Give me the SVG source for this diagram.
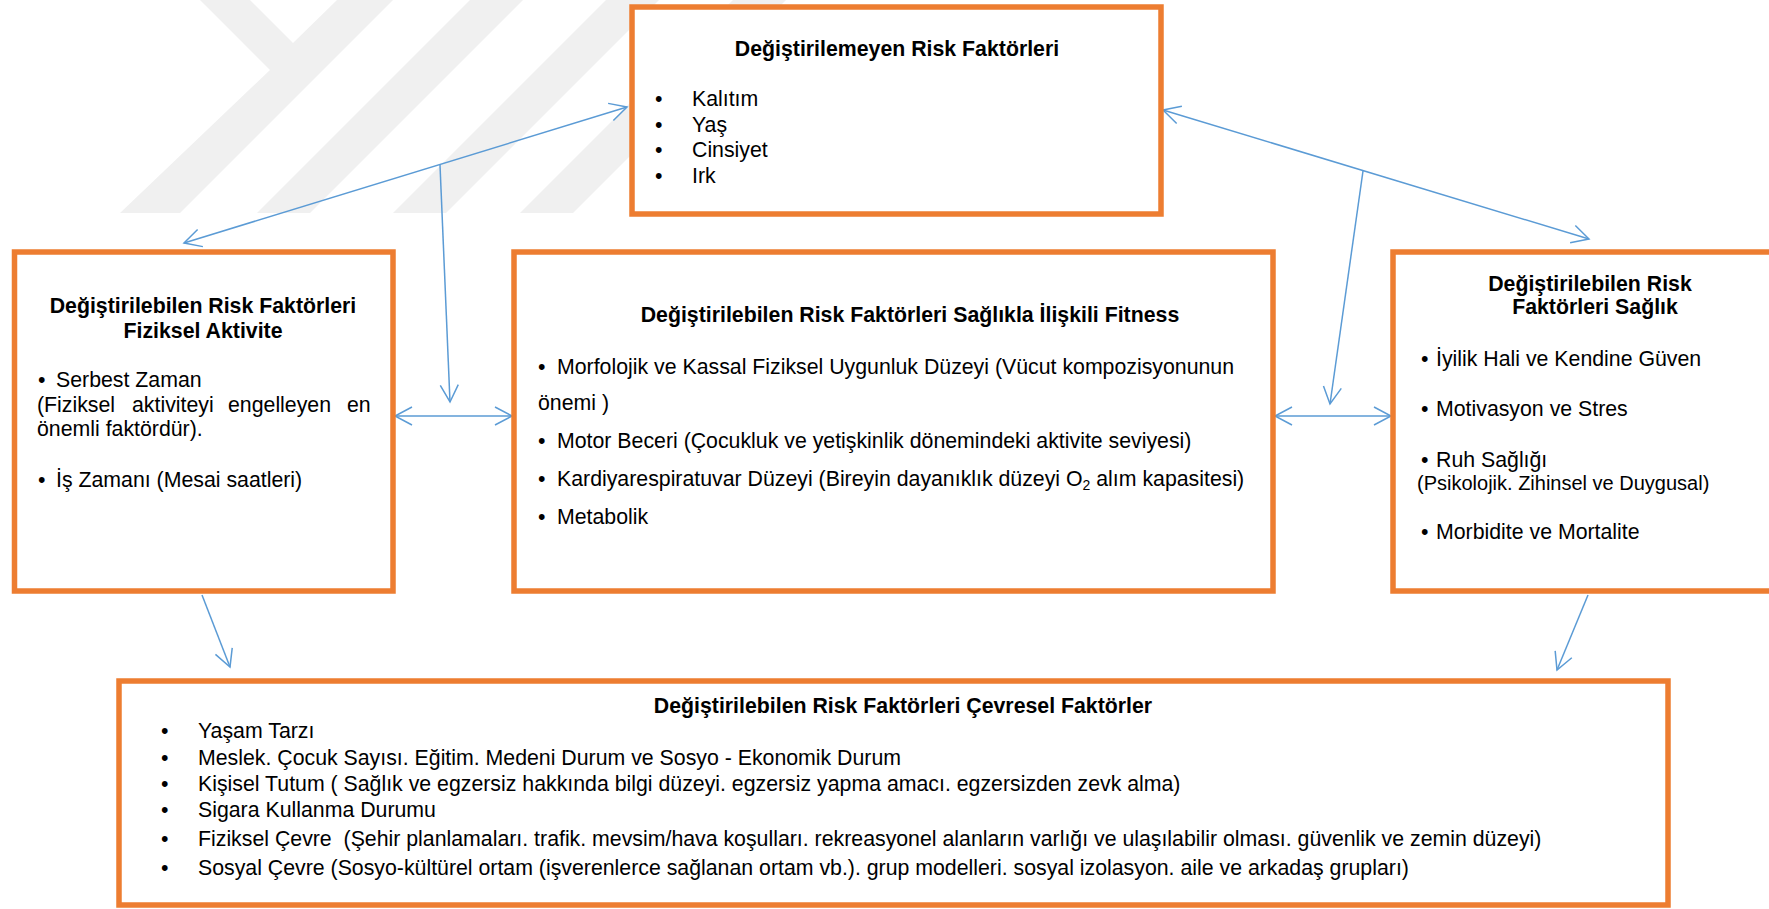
<svg xmlns="http://www.w3.org/2000/svg" width="1769" height="909" viewBox="0 0 1769 909">
<style>
.box{fill:#ffffff;stroke:#ED7D31;stroke-width:5.5}
.t{font-family:'Liberation Sans',Arial,sans-serif;font-size:21.3px;fill:#000}
.b{font-weight:bold}
.m{text-anchor:middle}
.con{fill:none;stroke:#5B9BD5;stroke-width:1.5}
.wm{fill:#f0f0f0}
</style>
<defs>
<marker id="ah" markerUnits="userSpaceOnUse" markerWidth="22" markerHeight="22" viewBox="-19 -11 22 22" refX="0" refY="0" orient="auto-start-reverse" overflow="visible">
<path d="M-17,-9 L0,0 L-17,9" fill="none" stroke="#5B9BD5" stroke-width="1.5"/>
</marker>
</defs>
<rect width="1769" height="909" fill="#ffffff"/>
<g id="watermark">
<polygon class="wm" points="200,0 250,0 293,43 337,0 393,0 180,213 120,213 270,70"/>
<polygon class="wm" points="470,0 523,0 310,213 257,213"/>
<polygon class="wm" points="606,0 659,0 446,213 393,213"/>
<polygon class="wm" points="733,0 786,0 573,213 520,213"/>
</g>
<g id="connectors">
<line class="con" x1="627" y1="107" x2="184" y2="243" marker-start="url(#ah)" marker-end="url(#ah)"/>
<line class="con" x1="440" y1="165" x2="450" y2="402" marker-end="url(#ah)"/>
<line class="con" x1="395" y1="416" x2="512" y2="416" marker-start="url(#ah)" marker-end="url(#ah)"/>
<line class="con" x1="1163" y1="110" x2="1589" y2="239" marker-start="url(#ah)" marker-end="url(#ah)"/>
<line class="con" x1="1363" y1="171" x2="1330" y2="404" marker-end="url(#ah)"/>
<line class="con" x1="1275" y1="416" x2="1391" y2="416" marker-start="url(#ah)" marker-end="url(#ah)"/>
<line class="con" x1="202" y1="595" x2="230" y2="667" marker-end="url(#ah)"/>
<line class="con" x1="1588" y1="595" x2="1557" y2="670" marker-end="url(#ah)"/>
</g>
<g id="node-degistirilemeyen">
<rect class="box" x="632" y="7" width="529" height="207"/>
<text class="t b m" x="897" y="56">Değiştirilemeyen Risk Faktörleri</text>
<text class="t" x="655" y="106">•</text><text class="t" x="692" y="106">Kalıtım</text>
<text class="t" x="655" y="131.5">•</text><text class="t" x="692" y="131.5">Yaş</text>
<text class="t" x="655" y="157">•</text><text class="t" x="692" y="157">Cinsiyet</text>
<text class="t" x="655" y="182.5">•</text><text class="t" x="692" y="182.5">Irk</text>
</g>
<g id="node-fiziksel-aktivite">
<rect class="box" x="14.5" y="252" width="378.5" height="339"/>
<text class="t b m" x="203" y="313">Değiştirilebilen Risk Faktörleri</text>
<text class="t b m" x="203" y="338">Fiziksel Aktivite</text>
<text class="t" x="38" y="387">•</text><text class="t" x="56" y="387">Serbest Zaman</text>
<text class="t" y="412"><tspan x="37">(Fiziksel</tspan><tspan x="132">aktiviteyi</tspan><tspan x="228">engelleyen</tspan><tspan x="347">en</tspan></text>
<text class="t" x="37" y="436">önemli faktördür).</text>
<text class="t" x="38" y="487">•</text><text class="t" x="56" y="487">İş Zamanı (Mesai saatleri)</text>
</g>
<g id="node-fitness">
<rect class="box" x="514" y="252" width="759" height="339"/>
<text class="t b m" x="910" y="322">Değiştirilebilen Risk Faktörleri Sağlıkla İlişkili Fitness</text>
<text class="t" x="538" y="374">•</text><text class="t" x="557" y="374">Morfolojik ve Kassal Fiziksel Uygunluk Düzeyi (Vücut kompozisyonunun</text>
<text class="t" x="538" y="410">önemi )</text>
<text class="t" x="538" y="448">•</text><text class="t" x="557" y="448">Motor Beceri (Çocukluk ve yetişkinlik dönemindeki aktivite seviyesi)</text>
<text class="t" x="538" y="486">•</text><text class="t" x="557" y="486">Kardiyarespiratuvar Düzeyi (Bireyin dayanıklık düzeyi O<tspan dy="4" font-size="14px">2</tspan><tspan dy="-4"> alım kapasitesi)</tspan></text>
<text class="t" x="538" y="524">•</text><text class="t" x="557" y="524">Metabolik</text>
</g>
<g id="node-saglik">
<rect class="box" x="1393" y="252" width="400" height="339"/>
<text class="t b m" x="1590" y="291">Değiştirilebilen Risk</text>
<text class="t b m" x="1595" y="314">Faktörleri Sağlık</text>
<text class="t" x="1421" y="366">•</text><text class="t" x="1436" y="366">İyilik Hali ve Kendine Güven</text>
<text class="t" x="1421" y="416">•</text><text class="t" x="1436" y="416">Motivasyon ve Stres</text>
<text class="t" x="1421" y="467">•</text><text class="t" x="1436" y="467">Ruh Sağlığı</text>
<text class="t" x="1417" y="490" style="font-size:20px">(Psikolojik. Zihinsel ve Duygusal)</text>
<text class="t" x="1421" y="539">•</text><text class="t" x="1436" y="539">Morbidite ve Mortalite</text>
</g>
<g id="node-cevresel">
<rect class="box" x="119" y="681" width="1549" height="224"/>
<text class="t b m" x="903" y="713">Değiştirilebilen Risk Faktörleri Çevresel Faktörler</text>
<text class="t" x="161" y="738">•</text><text class="t" x="198" y="738">Yaşam Tarzı</text>
<text class="t" x="161" y="765">•</text><text class="t" x="198" y="765">Meslek. Çocuk Sayısı. Eğitim. Medeni Durum ve Sosyo - Ekonomik Durum</text>
<text class="t" x="161" y="791">•</text><text class="t" x="198" y="791">Kişisel Tutum ( Sağlık ve egzersiz hakkında bilgi düzeyi. egzersiz yapma amacı. egzersizden zevk alma)</text>
<text class="t" x="161" y="817">•</text><text class="t" x="198" y="817">Sigara Kullanma Durumu</text>
<text class="t" x="161" y="846">•</text><text class="t" x="198" y="846">Fiziksel Çevre&#160; (Şehir planlamaları. trafik. mevsim/hava koşulları. rekreasyonel alanların varlığı ve ulaşılabilir olması. güvenlik ve zemin düzeyi)</text>
<text class="t" x="161" y="875">•</text><text class="t" x="198" y="875">Sosyal Çevre (Sosyo-kültürel ortam (işverenlerce sağlanan ortam vb.). grup modelleri. sosyal izolasyon. aile ve arkadaş grupları)</text>
</g>
</svg>
